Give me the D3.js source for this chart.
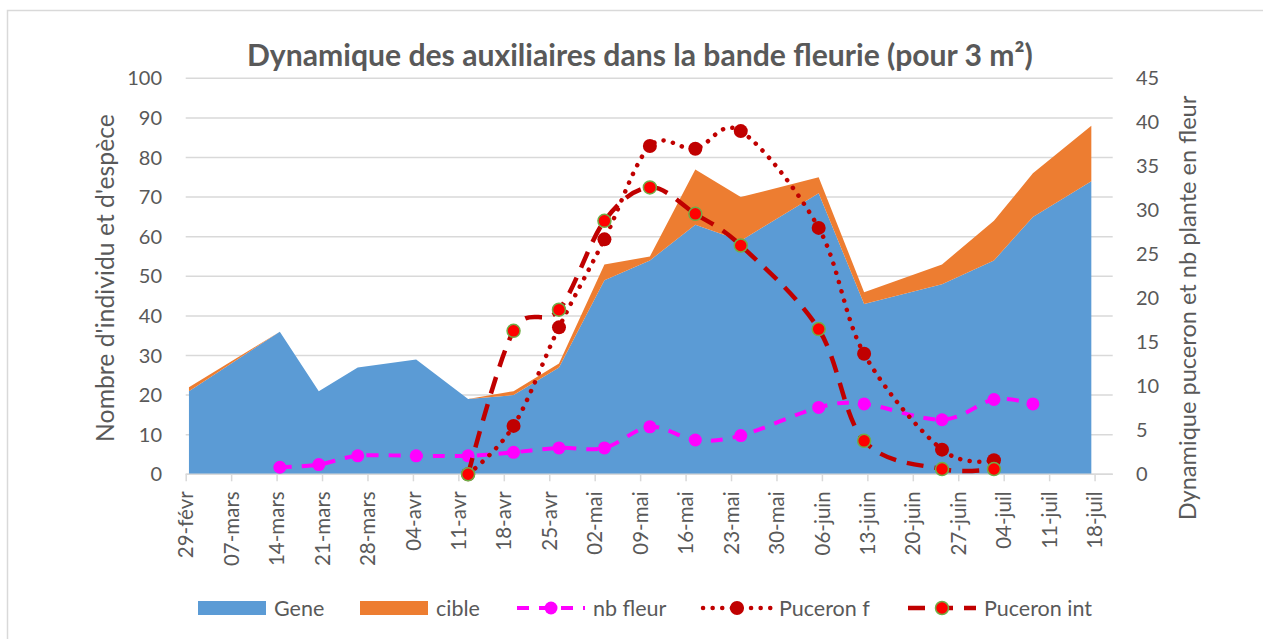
<!DOCTYPE html>
<html>
<head>
<meta charset="utf-8">
<script src="https://cdn.jsdelivr.net/npm/d3@7/dist/d3.min.js"></script>
<style>
  body { margin: 0; background: #fff; }
  text { font-family: Lato, "Open Sans", sans-serif; fill: #595959; }
</style>
</head>
<body>
<svg id="chart" width="1263" height="639"></svg>
<script>
// sampling dates (one point per visit)
var dates = ["2016-02-29", "2016-03-14", "2016-03-20", "2016-03-26", "2016-04-04", "2016-04-12",
  "2016-04-19", "2016-04-26", "2016-05-03", "2016-05-10", "2016-05-17", "2016-05-24",
  "2016-06-05", "2016-06-12", "2016-06-24", "2016-07-02", "2016-07-08", "2016-07-17"];

// stacked areas (left axis)
var gene  = [21, 36, 21, 27, 29, 19, 20, 27, 49, 54, 63, 59, 71, 43, 48, 54, 65, 74];
var cible = [1, 0, 0, 0, 0, 0, 1, 1, 4, 1, 14, 11, 4, 3, 5, 10, 11, 14];

// lines (right axis)
var nbFleur    = [null, 0.8, 1.1, 2.1, 2.1, 2.1, 2.5, 3, 3, 5.4, 3.9, 4.4, 7.6, 8, 6.2, 8.5, 8, null];
var pucF       = [null, null, null, null, null, 0, 5.5, 16.7, 26.7, 37.3, 37, 39, 28, 13.7, 2.8, 1.6, null, null];
var pucInt     = [null, null, null, null, null, 0, 16.3, 18.7, 28.8, 32.6, 29.6, 26, 16.5, 3.8, 0.6, 0.6, null, null];

var xTickLabels = ["29-févr", "07-mars", "14-mars", "21-mars", "28-mars", "04-avr", "11-avr", "18-avr",
  "25-avr", "02-mai", "09-mai", "16-mai", "23-mai", "30-mai", "06-juin", "13-juin", "20-juin",
  "27-juin", "04-juil", "11-juil", "18-juil"];
var leftTicks = [0, 10, 20, 30, 40, 50, 60, 70, 80, 90, 100];
var rightTicks = [0, 5, 10, 15, 20, 25, 30, 35, 40, 45];

var legendNames = ["Gene", "cible", "nb fleur", "Puceron f", "Puceron int"];

var title = "Dynamique des auxiliaires dans la bande fleurie (pour 3 m²)";
var leftTitle = "Nombre d'individu et d'espèce";
var rightTitle = "Dynamique puceron et nb plante en fleur";

var parse = d3.timeParse("%Y-%m-%d");
var start = parse("2016-02-29");

var svg = d3.select("#chart");

// chart frame
svg.append("rect")
  .attr("x", 7.5).attr("y", 10.5)
  .attr("width", 1400).attr("height", 800)
  .attr("fill", "#fff").attr("stroke", "#d9d9d9").attr("stroke-width", 1.5);

var plotL = 185.7, plotR = 1112.7, plotT = 78.3, plotB = 474.3;

var x = d3.scaleTime()
  .domain([start, d3.timeHour.offset(start, 142.8 * 24)])
  .range([plotL, plotR]);
var y = d3.scaleLinear().domain([0, 100]).range([plotB, plotT]);
var y2 = d3.scaleLinear().domain([0, 45]).range([plotB, plotT]);

// points sit in the middle of their day
function px(i) { return x(d3.timeHour.offset(parse(dates[i]), 12)); }

// shrink/grow a text so it spans a given length
function fitText(sel, size, len) {
  var w = sel.node().getComputedTextLength();
  sel.style("font-size", (size * len / w) + "px");
}

// gridlines
svg.append("g")
  .selectAll("line")
  .data(leftTicks)
  .enter().append("line")
  .attr("x1", plotL).attr("x2", plotR)
  .attr("y1", function(d) { return y(d); })
  .attr("y2", function(d) { return y(d); })
  .attr("stroke", "#d9d9d9").attr("stroke-width", 1.5);

// left axis labels
svg.append("g")
  .selectAll("text")
  .data(leftTicks)
  .enter().append("text")
  .attr("x", 162).attr("y", function(d) { return y(d); })
  .attr("dy", "0.35em")
  .attr("text-anchor", "end")
  .style("font-size", "20px")
  .text(function(d) { return d; });

// right axis labels
svg.append("g")
  .selectAll("text")
  .data(rightTicks)
  .enter().append("text")
  .attr("x", 1136).attr("y", function(d) { return y2(d); })
  .attr("dy", "0.35em")
  .style("font-size", "20px")
  .text(function(d) { return d; });

// stacked areas
var rows = dates.map(function(d, i) { return {i: i, gene: gene[i], cible: cible[i]}; });
var stack = d3.stack().keys(["gene", "cible"])(rows);
var colors = {gene: "#5b9bd5", cible: "#ed7d31"};

var area = d3.area()
  .x(function(d) { return px(d.data.i); })
  .y0(function(d) { return y(d[0]); })
  .y1(function(d) { return y(d[1]); });

svg.append("g")
  .selectAll("path")
  .data(stack)
  .enter().append("path")
  .attr("fill", function(s) { return colors[s.key]; })
  .attr("d", area);

// x axis
var tickDates = xTickLabels.map(function(t, i) { return d3.timeDay.offset(start, 7 * i); });
var xAxis = svg.append("g")
  .attr("transform", "translate(0," + plotB + ")")
  .call(d3.axisBottom(x)
    .tickValues(tickDates)
    .tickSize(7)
    .tickFormat(function(d, i) { return xTickLabels[i]; }));
xAxis.select(".domain").attr("stroke", "#d9d9d9").attr("stroke-width", 1.5)
  .attr("d", "M" + plotL + ",0H" + plotR);
xAxis.selectAll(".tick line").attr("stroke", "#d9d9d9").attr("stroke-width", 1.5);
xAxis.selectAll(".tick text")
  .attr("fill", "#595959")
  .style("font-size", "20.5px")
  .style("font-family", "Lato, 'Open Sans', sans-serif")
  .attr("text-anchor", "end")
  .attr("transform", "rotate(-90)")
  .attr("x", -17).attr("y", 0)
  .attr("dy", "0.35em");

// lines
var series = [
  {name: "nb fleur", values: nbFleur, color: "#ff00ff", width: 4, dash: "12,10", cap: "butt",
    r: 6.5, fill: "#ff00ff", stroke: "#ff00ff", sw: 0},
  {name: "Puceron f", values: pucF, color: "#c00000", width: 4.5, dash: "0.1,9.5", cap: "round",
    r: 7, fill: "#c00000", stroke: "#c00000", sw: 0},
  {name: "Puceron int", values: pucInt, color: "#c00000", width: 4.5, dash: "17,11", cap: "butt",
    r: 6.5, fill: "#ff0000", stroke: "#70ad47", sw: 1.5}
];

var line = d3.line()
  .defined(function(d) { return d.v != null; })
  .x(function(d) { return px(d.i); })
  .y(function(d) { return y2(d.v); })
  .curve(d3.curveCatmullRom.alpha(0));

series.forEach(function(s) {
  var pts = s.values.map(function(v, i) { return {i: i, v: v}; })
    .filter(function(d) { return d.v != null; });
  var g = svg.append("g");
  g.append("path")
    .datum(pts)
    .attr("fill", "none")
    .attr("stroke", s.color)
    .attr("stroke-width", s.width)
    .attr("stroke-dasharray", s.dash)
    .attr("stroke-linecap", s.cap)
    .attr("d", line);
  g.selectAll("circle")
    .data(pts)
    .enter().append("circle")
    .attr("cx", function(d) { return px(d.i); })
    .attr("cy", function(d) { return y2(d.v); })
    .attr("r", s.r)
    .attr("fill", s.fill)
    .attr("stroke", s.stroke)
    .attr("stroke-width", s.sw);
});

// title
var t = svg.append("text")
  .attr("x", 640).attr("y", 66)
  .attr("text-anchor", "middle")
  .style("font-size", "25px")
  .style("font-weight", "bold")
  .text(title);
fitText(t, 25, 786);

// axis titles
var lt = svg.append("text")
  .attr("transform", "translate(105,278) rotate(-90)")
  .attr("text-anchor", "middle")
  .attr("dy", "0.35em")
  .style("font-size", "21px")
  .text(leftTitle);
fitText(lt, 21, 328);

var rt = svg.append("text")
  .attr("transform", "translate(1188,308) rotate(-90)")
  .attr("text-anchor", "middle")
  .attr("dy", "0.35em")
  .style("font-size", "21px")
  .text(rightTitle);
fitText(rt, 21, 425);

// legend
var legend = svg.append("g");
var legendX = [198, 360, 517, 703, 908];
var ly = 608, symW = 68;
legendNames.forEach(function(name, i) {
  var lx = legendX[i];
  var g = legend.append("g");
  if (i < 2) {
    g.append("rect")
      .attr("x", lx).attr("y", ly - 7)
      .attr("width", symW).attr("height", 14)
      .attr("fill", i === 0 ? colors.gene : colors.cible);
  } else {
    var s = series[i - 2];
    g.append("line")
      .attr("x1", lx).attr("x2", lx + symW)
      .attr("y1", ly).attr("y2", ly)
      .attr("stroke", s.color)
      .attr("stroke-width", s.width)
      .attr("stroke-dasharray", s.dash)
      .attr("stroke-linecap", s.cap);
    g.append("circle")
      .attr("cx", lx + symW / 2).attr("cy", ly)
      .attr("r", s.r)
      .attr("fill", s.fill)
      .attr("stroke", s.stroke)
      .attr("stroke-width", s.sw);
  }
  g.append("text")
    .attr("x", lx + symW + 8).attr("y", ly)
    .attr("dy", "0.35em")
    .style("font-size", "21.5px")
    .text(name);
});
</script>
</body>
</html>
